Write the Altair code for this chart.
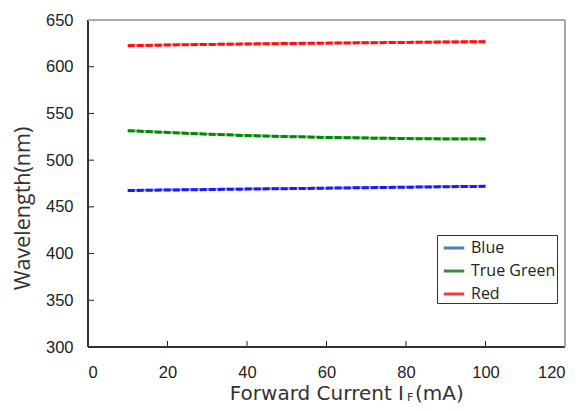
import altair as alt
import pandas as pd

# Forward current (mA) and peak wavelength (nm) per LED colour
current = [10, 20, 30, 40, 50, 60, 70, 80, 90, 100]
blue = [467.5, 468.0, 468.5, 469.0, 469.5, 470.0, 470.5, 471.0, 471.5, 472.0]
green = [531.5, 529.6, 527.8, 526.3, 525.2, 524.3, 523.6, 523.1, 522.7, 522.5]
red = [622.5, 623.2, 623.8, 624.3, 624.8, 625.2, 625.6, 626.0, 626.4, 626.8]

series = ["Blue", "True Green", "Red"]
line_colors = ["#1a1aff", "#008a00", "#ff1010"]
pale_colors = ["#9a9aff", "#8fd08f", "#ff9a9a"]
legend_colors = ["#4a7ebb", "#3c8a3c", "#f03c3c"]

x_ticks = [0, 20, 40, 60, 80, 100, 120]
y_ticks = [300, 350, 400, 450, 500, 550, 600, 650]

rows = []
for name, vals in zip(series, [blue, green, red]):
    for c, v in zip(current, vals):
        rows.append({"current": c, "wavelength": v, "series": name})
df = pd.DataFrame(rows)

W, H = 477, 327
xs = alt.Scale(domain=[0, 120], nice=False)
ys = alt.Scale(domain=[300, 650], nice=False)

x_axis = alt.Axis(values=x_ticks, tickSize=0, labelPadding=17, domain=False,
                  grid=False, title=None, labelFont="Liberation Sans",
                  labelFontSize=16.5, labelColor="#222")
y_axis = alt.Axis(values=y_ticks, tickSize=0, labelPadding=15, domain=False,
                  grid=False, title="Wavelength(nm)", titleFont="Open Sans",
                  titleFontSize=21.5, titleFontWeight="normal", titleColor="#333",
                  titlePadding=11, titleY=188, labelFont="Liberation Sans",
                  labelFontSize=16.5, labelColor="#222")

base = alt.Chart(df).encode(
    x=alt.X("current:Q", scale=xs, axis=x_axis),
    y=alt.Y("wavelength:Q", scale=ys, axis=y_axis),
    detail="series:N",
)

pale = base.mark_line(strokeWidth=2).encode(
    color=alt.Color("series:N", scale=alt.Scale(domain=series, range=pale_colors), legend=None)
)
pale_shift = base.transform_calculate(wavelength="datum.wavelength + 0.8").mark_line(strokeWidth=1.5).encode(
    color=alt.Color("series:N", scale=alt.Scale(domain=series, range=pale_colors), legend=None)
)
main = base.mark_line(strokeWidth=3, strokeDash=[7, 2]).encode(
    color=alt.Color("series:N", scale=alt.Scale(domain=series, range=line_colors), legend=None)
)
legend_layer = base.mark_line(strokeOpacity=0).encode(
    stroke=alt.Stroke(
        "series:N",
        scale=alt.Scale(domain=series, range=legend_colors),
        legend=alt.Legend(
            title=None, orient="none", legendX=349, legendY=215,
            symbolType="stroke", symbolStrokeWidth=3, symbolSize=420,
            symbolOpacity=1, symbolOffset=4, labelFont="Open Sans", labelFontSize=16,
            labelColor="#222", strokeColor="#333", padding=1,
            rowPadding=3, labelOffset=5, fillColor="white",
        ),
    )
)

# inward tick marks along bottom and left edges
xt = pd.DataFrame({"v": x_ticks[1:-1]})
yt = pd.DataFrame({"v": y_ticks[1:-1]})
x_tick_rules = alt.Chart(xt).mark_rule(color="#222", strokeWidth=1).encode(
    x=alt.X("v:Q", scale=xs), y=alt.value(H), y2=alt.value(H - 6)
)
y_tick_rules = alt.Chart(yt).mark_rule(color="#222", strokeWidth=1).encode(
    y=alt.Y("v:Q", scale=ys), x=alt.value(0), x2=alt.value(6)
)

# frame: dark left/bottom, grey top/right
frame_left = alt.Chart(xt).mark_rule(color="#333", strokeWidth=1.5).encode(
    x=alt.value(0), y=alt.value(0), y2=alt.value(H))
frame_bottom = alt.Chart(xt).mark_rule(color="#333", strokeWidth=1.5).encode(
    x=alt.value(0), x2=alt.value(W), y=alt.value(H))
frame_top = alt.Chart(xt).mark_rule(color="#aaa", strokeWidth=1.5).encode(
    x=alt.value(0), x2=alt.value(W), y=alt.value(0))
frame_right = alt.Chart(xt).mark_rule(color="#aaa", strokeWidth=1.5).encode(
    x=alt.value(W), y=alt.value(0), y2=alt.value(H))

# x-axis title with subscript F
title_df = pd.DataFrame({"a": [0]})
t_main = alt.Chart(title_df).mark_text(
    text="Forward Current I", font="DejaVu Sans", fontSize=20, color="#333",
    align="right", baseline="alphabetic").encode(x=alt.value(316), y=alt.value(380))
t_sub = alt.Chart(title_df).mark_text(
    text="F", font="DejaVu Sans", fontSize=11, color="#333",
    align="left", baseline="alphabetic").encode(x=alt.value(319), y=alt.value(381))
t_unit = alt.Chart(title_df).mark_text(
    text="(mA)", font="DejaVu Sans", fontSize=20, color="#333",
    align="left", baseline="alphabetic").encode(x=alt.value(327), y=alt.value(380))

chart = alt.layer(
    pale_shift, pale, main, legend_layer,
    x_tick_rules, y_tick_rules,
    frame_left, frame_bottom, frame_top, frame_right,
    t_main, t_sub, t_unit,
).resolve_scale(color="independent", stroke="independent").properties(
    width=W, height=H,
    padding={"left": 88, "top": 20, "right": 22, "bottom": 64},
    autosize=alt.AutoSizeParams(type="none"),
).configure_view(stroke=None).configure(background="white")

chart.save("out.html", embed_options={"renderer": "svg", "actions": False})
